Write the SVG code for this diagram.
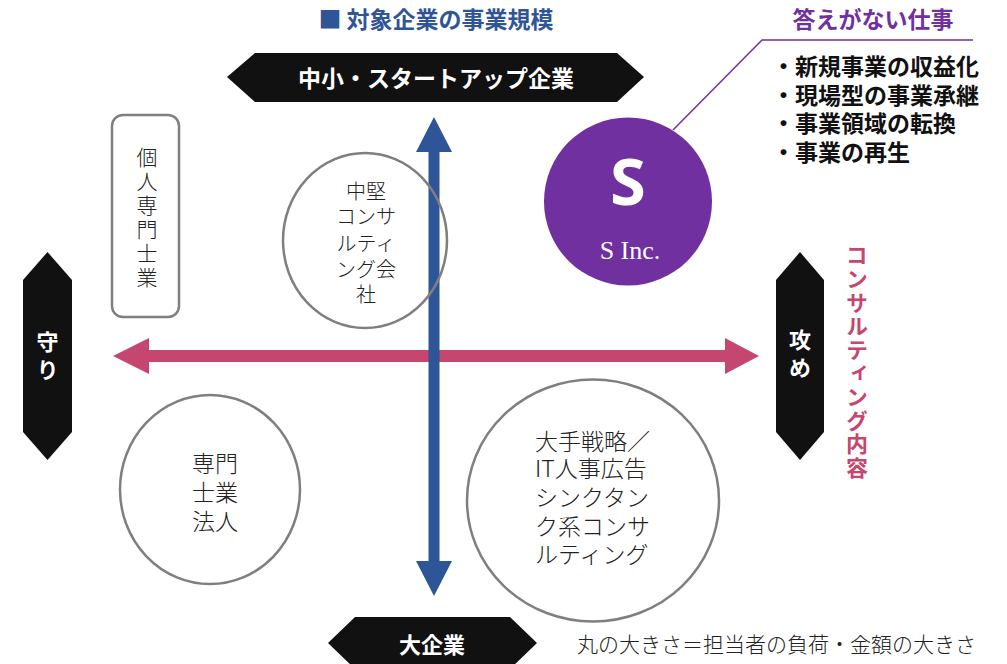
<svg xmlns="http://www.w3.org/2000/svg" width="1007" height="664" viewBox="0 0 1007 664">
<style>
.jp{font-family:"Noto Sans CJK JP","Noto Sans CJK SC",sans-serif;}
.b{font-weight:700;}
.l{font-weight:300;fill:#222;}
.wt{fill:#fff;}
.band{fill:#111;}
.ring{fill:none;stroke:#7f7f7f;stroke-width:2.5;}
.mid{dominant-baseline:central;}
.v{writing-mode:vertical-rl;text-anchor:middle;}
</style>
<rect width="1007" height="664" fill="#fff"/>

<g id="title">
<text class="jp b mid" x="436" y="18" font-size="23" fill="#2F5597" text-anchor="middle">■ 対象企業の事業規模</text>
</g>

<g id="connectors">
<polygon fill="#C5466F" points="113,356 149,338 149,350 725,350 725,338 759,356 725,374 725,362 149,362 149,374"/>
<polygon fill="#2E5597" points="434,117 452,152 439.5,152 439.5,561 452,561 434,596 416,561 428.5,561 428.5,152 416,152"/>
<polyline fill="none" stroke="#7030A0" stroke-width="1.5" points="673,130 762,40 973,40"/>
</g>

<g id="top-banner">
<polygon class="band" points="227,77 255,53 617,53 644,77 617,102 255,102"/>
<text class="jp b wt mid" x="436" y="77" font-size="23" text-anchor="middle">中小・スタートアップ企業</text>
</g>

<g id="bottom-banner">
<polygon class="band" points="328,643 355,617 510,617 537,643 510,669 355,669"/>
<text class="jp b wt mid" x="432" y="643" font-size="22" text-anchor="middle">大企業</text>
</g>

<g id="left-label">
<polygon class="band" points="47.5,252 72,280 72,432 47.5,460 23,432 23,280"/>
<text class="jp b wt v" x="47.5" y="359" font-size="22" letter-spacing="6">守り</text>
</g>

<g id="right-label">
<polygon class="band" points="800,252 824,280 824,432 800,460 776,432 776,280"/>
<text class="jp b wt v" x="800" y="357" font-size="22" letter-spacing="6">攻め</text>
</g>

<g id="consulting-label">
<text class="jp b v" x="857" y="362" font-size="22" letter-spacing="1.6" fill="#C5466F">コンサルティング内容</text>
</g>

<g id="node-kojin">
<rect class="ring" x="112" y="115" width="67" height="202" rx="11"/>
<text class="jp l v" x="147" y="219" font-size="21" letter-spacing="3">個人専門士業</text>
</g>

<g id="node-chuken">
<ellipse class="ring" cx="365" cy="240.5" rx="82" ry="87.5"/>
<text class="jp l mid" font-size="20" text-anchor="middle"><tspan x="366" y="190">中堅</tspan><tspan x="366" y="215">コンサ</tspan><tspan x="366" y="242">ルティ</tspan><tspan x="366" y="268">ング会</tspan><tspan x="366" y="293">社</tspan></text>
</g>

<g id="node-senmon">
<ellipse class="ring" cx="210" cy="489.5" rx="90" ry="94.5"/>
<text class="jp l mid" font-size="23" text-anchor="middle"><tspan x="215" y="462">専門</tspan><tspan x="215" y="491">士業</tspan><tspan x="215" y="520">法人</tspan></text>
</g>

<g id="node-ote">
<ellipse class="ring" cx="593" cy="500.5" rx="126" ry="121"/>
<text class="jp l mid" font-size="23"><tspan x="535" y="440">大手戦略／</tspan><tspan x="535" y="467">IT人事広告</tspan><tspan x="535" y="496">シンクタン</tspan><tspan x="535" y="525">ク系コンサ</tspan><tspan x="535" y="553">ルティング</tspan></text>
</g>

<g id="node-s">
<circle cx="628" cy="201.5" r="84" fill="#7030A0"/>
<text x="628" y="205" font-family="'Noto Sans','Open Sans',sans-serif" font-weight="700" font-size="65" fill="#fff" text-anchor="middle">S</text>
<text x="630" y="259" font-family="'Liberation Serif',serif" font-size="26" fill="#fff" text-anchor="middle">S Inc.</text>
</g>

<g id="answer">
<text class="jp b mid" x="873" y="18" font-size="23" fill="#7030A0" text-anchor="middle">答えがない仕事</text>
<text class="jp b mid" font-size="23" fill="#111"><tspan x="772" y="65">・新規事業の収益化</tspan><tspan x="772" y="94">・現場型の事業承継</tspan><tspan x="772" y="122">・事業領域の転換</tspan><tspan x="772" y="151">・事業の再生</tspan></text>
</g>

<g id="caption">
<text class="jp l mid" x="577" y="643" font-size="21">丸の大きさ＝担当者の負荷・金額の大きさ</text>
</g>
</svg>
